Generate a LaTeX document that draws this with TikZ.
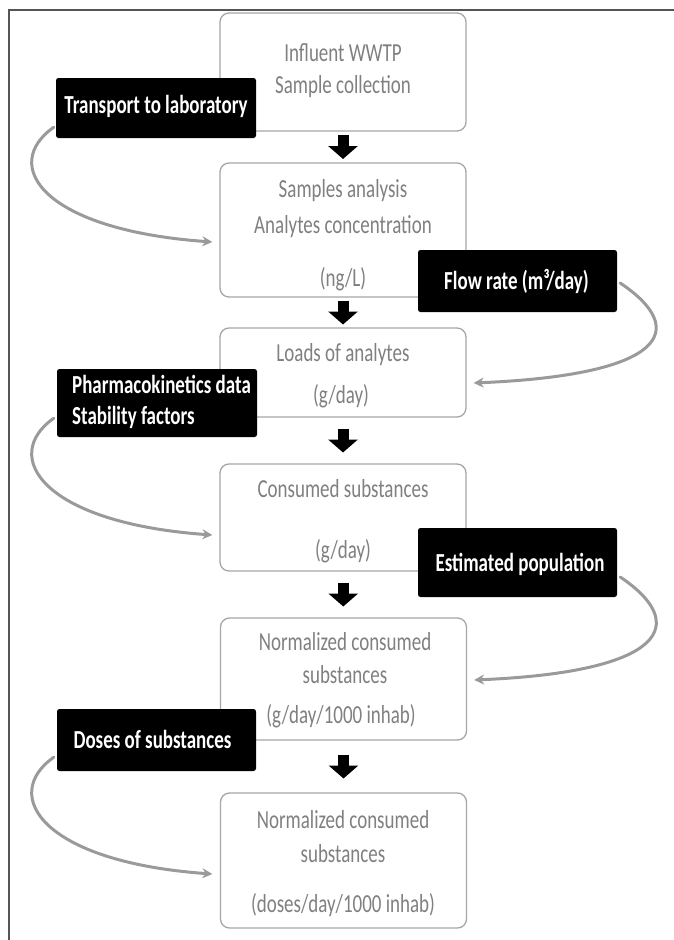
\documentclass[tikz,border=0pt]{standalone}
\usepackage{fontspec}
\setmainfont{Carlito}[FakeStretch=0.73]
\usetikzlibrary{arrows.meta,calc}
\definecolor{boxline}{HTML}{A6A6A6}
\definecolor{boxtext}{HTML}{808080}
\definecolor{curvecol}{HTML}{9A9A9A}
\definecolor{framecol}{HTML}{555555}
\begin{document}
\begin{tikzpicture}[x=1pt,y=-1pt,
  stepbox/.style={draw=boxline, line width=1.3pt, rounded corners=9pt, fill=white, minimum width=246pt, inner sep=0pt},
  infobox/.style={fill=black, rounded corners=2.5pt, inner sep=0pt, minimum width=200pt},
  steptext/.style={text=boxtext, font=\fontsize{26}{31.5}\selectfont, anchor=base, inner sep=0pt},
  infotext/.style={text=white, font=\fontsize{26}{31.5}\selectfont\bfseries, anchor=base, inner sep=0pt},
  flowarrow/.style={draw=black, line width=11pt, -{Triangle[width=29pt,length=13pt]}},
  feedarrow/.style={draw=curvecol, line width=3pt, -{Stealth[length=10pt,width=10pt]}, line cap=round},
]
\useasboundingbox (0,0) rectangle (673,940);
\draw[framecol, line width=2pt] (9,941) -- (9,10) -- (674,10);

% main boxes
\node[stepbox, minimum height=118pt] (b1) at (343,72) {};
\node[stepbox, minimum height=134pt] (b2) at (343,230) {};
\node[stepbox, minimum height=89pt]  (b3) at (343,372.5) {};
\node[stepbox, minimum height=107pt] (b4) at (343,517.5) {};
\node[stepbox, minimum height=122pt] (b5) at (343.5,679) {};
\node[stepbox, minimum height=135pt] (b6) at (343.5,860.5) {};

% main texts
\node[steptext] (b1a) at (343,61.7) {Influent WWTP};
\node[steptext] (b1b) at (343,93) {Sample collection};
\node[steptext] (b2a) at (343,197) {Samples analysis};
\node[steptext] (b2b) at (343,233) {Analytes concentration};
\node[steptext] (b2c) at (343,286) {(ng/L)};
\node[steptext] (b3a) at (343,361) {Loads of analytes};
\node[steptext] (b3b) at (341,403) {(g/day)};
\node[steptext] (b4a) at (343,497) {Consumed substances};
\node[steptext] (b4b) at (343,558) {(g/day)};
\node[steptext] (b5a) at (345,650) {Normalized consumed};
\node[steptext] (b5b) at (345,683) {substances};
\node[steptext] (b5c) at (341,723) {(g/day/1000 inhab)};
\node[steptext] (b6a) at (343,828) {Normalized consumed};
\node[steptext] (b6b) at (343,862) {substances};
\node[steptext] (b6c) at (343,912) {(doses/day/1000 inhab)};

% flow arrows
\foreach \i/\j in {1/2,2/3,3/4,4/5,5/6}{
  \coordinate (m\i) at ($(b\i.south)!0.5!(b\j.north)$);
  \draw[flowarrow] ($(m\i)+(0,-12)$) -- ($(m\i)+(0,12)$);
}

% info boxes
\node[infobox, minimum height=60pt] (t1) at (156,108) {};
\node[infobox, minimum height=62pt, minimum width=199pt] (t2) at (517.5,281) {};
\node[infobox, minimum height=68pt] (t3) at (157,403) {};
\node[infobox, minimum height=69pt, minimum width=199pt] (t4) at (517.5,562.5) {};
\node[infobox, minimum height=62pt, minimum width=199pt] (t5) at (156.5,740) {};

\node[infotext] (t1a) at (156,113) {Transport to laboratory};
\node[infotext] (t2a) at (516.5,289) {Flow rate (m³/day)};
\node[infotext, anchor=base west] (t3a) at (72,393) {Pharmacokinetics data};
\node[infotext, anchor=base west] (t3b) at (72,424) {Stability factors};
\node[infotext] (t4a) at (520,571) {Estimated population};
\node[infotext] (t5a) at (152.5,748) {Doses of substances};

% feedback curves
\draw[feedarrow] ($(t1.south west)+(-2,-11)$) .. controls +(-54,38) and +(-170,-12) .. ($(b2.west)+(-7,12)$);
\draw[feedarrow] ($(t3.south west)+(-3,-19)$) .. controls +(-54,38) and +(-170,-12) .. ($(b4.west)+(-7,17.5)$);
\draw[feedarrow] ($(t5.south west)+(-3,-14)$) .. controls +(-54,38) and +(-170,-12) .. ($(b6.west)+(-7.5,13.5)$);
\draw[feedarrow] ($(t2.east)+(3,2)$) .. controls +(70,47) and +(192,-8) .. ($(b3.east)+(7,10.5)$);
\draw[feedarrow] ($(t4.east)+(3,14.5)$) .. controls +(70,47) and +(192,-8) .. ($(b5.east)+(7,1)$);
\end{tikzpicture}
\end{document}
